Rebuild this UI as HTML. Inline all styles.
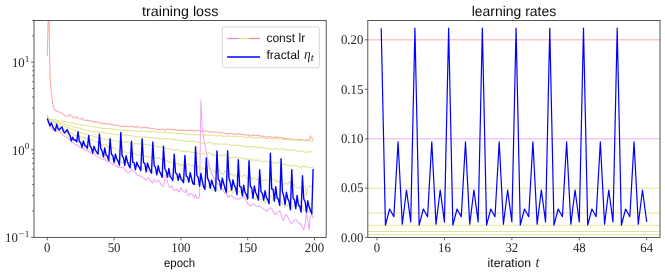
<!DOCTYPE html>
<html><head><meta charset="utf-8"><title>fractal learning rates</title>
<style>
html,body{margin:0;padding:0;background:#fff;}
body{width:665px;height:274px;overflow:hidden;font-family:"Liberation Sans",sans-serif;}
svg{display:block;}
text{text-rendering:geometricPrecision;}
</style></head><body>
<svg width="665" height="274" viewBox="0 0 665 274" role="img" aria-label="training loss and learning rates charts">
<defs><clipPath id="cl"><rect x="34.00" y="20.50" width="292.20" height="216.90"/></clipPath>
<clipPath id="cr"><rect x="367.80" y="20.50" width="292.20" height="216.90"/></clipPath></defs>
<rect width="100%" height="100%" fill="#fff"/>
<g clip-path="url(#cl)" fill="none" stroke-linejoin="round" stroke-linecap="butt">
<path d="M47.30 56.30 L48.64 -5.00 L49.97 74.00 L51.31 93.00 L52.64 102.50 L53.98 108.80 L55.31 110.20 L56.65 111.03 L57.99 111.75 L59.32 112.07 L60.66 112.59 L61.99 113.59 L63.33 114.02 L64.67 115.73 L66.00 116.07 L67.34 116.36 L68.67 115.91 L70.01 114.34 L71.34 115.61 L72.68 116.87 L74.02 118.25 L75.35 117.69 L76.69 116.36 L78.02 118.12 L79.36 118.63 L80.69 119.01 L82.03 117.78 L83.37 119.96 L84.70 120.08 L86.04 120.53 L87.37 120.27 L88.71 120.36 L90.05 120.72 L91.38 121.11 L92.72 121.64 L94.05 121.86 L95.39 121.87 L96.72 121.89 L98.06 122.22 L99.40 123.08 L100.73 122.85 L102.07 123.31 L103.40 123.69 L104.74 123.35 L106.08 123.86 L107.41 124.56 L108.75 123.80 L110.08 124.26 L111.42 124.59 L112.75 124.59 L114.09 125.15 L115.43 125.26 L116.76 124.95 L118.10 125.75 L119.43 126.06 L120.77 126.30 L122.10 126.62 L123.44 126.44 L124.78 126.39 L126.11 125.98 L127.45 126.57 L128.78 126.42 L130.12 126.51 L131.46 126.35 L132.79 126.47 L134.13 126.73 L135.46 127.49 L136.80 126.70 L138.13 126.73 L139.47 127.38 L140.81 128.05 L142.14 128.04 L143.48 127.30 L144.81 126.95 L146.15 127.87 L147.49 127.86 L148.82 127.81 L150.16 128.57 L151.49 128.92 L152.83 128.79 L154.16 128.85 L155.50 129.01 L156.84 129.52 L158.17 129.43 L159.51 129.45 L160.84 129.54 L162.18 128.95 L163.51 129.79 L164.85 129.95 L166.19 129.89 L167.52 129.07 L168.86 129.31 L170.19 129.89 L171.53 129.23 L172.87 129.60 L174.20 130.14 L175.54 129.56 L176.87 130.38 L178.21 130.31 L179.54 130.09 L180.88 130.22 L182.22 130.39 L183.55 130.30 L184.89 130.65 L186.22 130.18 L187.56 130.16 L188.89 130.67 L190.23 130.51 L191.57 130.20 L192.90 130.74 L194.24 131.11 L195.57 130.62 L196.91 130.24 L198.25 130.61 L199.58 130.78 L200.92 130.85 L202.25 131.50 L203.59 130.96 L204.92 131.61 L206.26 131.04 L207.60 131.10 L208.93 131.65 L210.27 132.04 L211.60 132.14 L212.94 132.06 L214.28 132.04 L215.61 132.10 L216.95 132.33 L218.28 132.21 L219.62 132.39 L220.95 132.70 L222.29 132.74 L223.63 133.13 L224.96 133.31 L226.30 133.98 L227.63 133.75 L228.97 133.56 L230.30 133.60 L231.64 133.78 L232.98 134.19 L234.31 133.96 L235.65 134.18 L236.98 134.78 L238.32 133.57 L239.66 133.73 L240.99 134.33 L242.33 134.64 L243.66 134.76 L245.00 134.65 L246.33 135.06 L247.67 135.14 L249.01 134.98 L250.34 135.99 L251.68 135.68 L253.01 135.37 L254.35 135.51 L255.68 135.59 L257.02 135.75 L258.36 135.00 L259.69 135.60 L261.03 136.35 L262.36 135.94 L263.70 136.26 L265.04 136.77 L266.37 136.97 L267.71 137.32 L269.04 136.46 L270.38 136.72 L271.71 136.89 L273.05 137.34 L274.39 137.71 L275.72 136.66 L277.06 137.67 L278.39 137.22 L279.73 137.88 L281.06 137.44 L282.40 137.94 L283.74 138.51 L285.07 138.33 L286.41 138.47 L287.74 138.79 L289.08 138.76 L290.42 138.76 L291.75 139.38 L293.09 139.49 L294.42 139.16 L295.76 140.15 L297.09 139.25 L298.43 139.74 L299.77 139.59 L301.10 139.76 L302.44 140.08 L303.77 140.10 L305.11 140.33 L306.45 139.77 L307.78 139.69 L309.12 140.45 L310.45 135.85 L311.79 138.05 L313.12 140.19" stroke="#ffa6a6" stroke-width="1.05"/>
<path d="M47.30 114.80 L48.64 120.00 L49.97 126.50 L51.31 127.83 L52.64 129.17 L53.98 130.66 L55.31 131.64 L56.65 130.85 L57.99 131.09 L59.32 131.75 L60.66 133.00 L61.99 133.93 L63.33 135.35 L64.67 136.37 L66.00 137.27 L67.34 137.81 L68.67 138.81 L70.01 140.67 L71.34 141.82 L72.68 142.29 L74.02 142.75 L75.35 144.67 L76.69 144.46 L78.02 145.78 L79.36 147.11 L80.69 147.16 L82.03 148.49 L83.37 148.16 L84.70 150.10 L86.04 150.64 L87.37 150.01 L88.71 151.89 L90.05 151.83 L91.38 153.86 L92.72 153.53 L94.05 154.36 L95.39 155.48 L96.72 155.88 L98.06 156.99 L99.40 157.23 L100.73 158.74 L102.07 159.11 L103.40 159.84 L104.74 158.13 L106.08 161.24 L107.41 161.72 L108.75 160.65 L110.08 162.26 L111.42 163.42 L112.75 164.66 L114.09 163.52 L115.43 165.84 L116.76 165.39 L118.10 167.92 L119.43 166.74 L120.77 167.65 L122.10 167.36 L123.44 166.61 L124.78 169.83 L126.11 171.01 L127.45 172.70 L128.78 172.74 L130.12 171.21 L131.46 169.66 L132.79 171.07 L134.13 171.91 L135.46 172.36 L136.80 174.90 L138.13 175.69 L139.47 175.45 L140.81 176.42 L142.14 176.63 L143.48 177.63 L144.81 179.15 L146.15 180.33 L147.49 178.54 L148.82 177.10 L150.16 181.62 L151.49 181.21 L152.83 182.97 L154.16 179.41 L155.50 180.75 L156.84 182.04 L158.17 180.32 L159.51 181.63 L160.84 184.40 L162.18 186.15 L163.51 185.88 L164.85 178.53 L166.19 174.94 L167.52 182.13 L168.86 186.68 L170.19 187.35 L171.53 185.45 L172.87 188.78 L174.20 190.16 L175.54 190.51 L176.87 189.06 L178.21 190.43 L179.54 192.10 L180.88 187.36 L182.22 190.20 L183.55 191.29 L184.89 192.96 L186.22 189.37 L187.56 194.83 L188.89 195.85 L190.23 193.52 L191.57 193.58 L192.90 195.37 L194.24 197.82 L195.57 194.77 L196.91 198.47 L198.25 198.46 L199.58 196.46 L200.92 99.80 L202.25 128.00 L203.59 138.00 L204.92 144.50 L206.26 150.97 L207.60 159.08 L208.93 165.50 L210.27 169.07 L211.60 172.85 L212.94 176.01 L214.28 178.89 L215.61 180.11 L216.95 182.92 L218.28 184.39 L219.62 185.61 L220.95 187.65 L222.29 189.42 L223.63 191.75 L224.96 193.41 L226.30 193.30 L227.63 196.47 L228.97 197.43 L230.30 195.37 L231.64 195.72 L232.98 196.89 L234.31 197.68 L235.65 198.87 L236.98 199.36 L238.32 198.55 L239.66 199.10 L240.99 198.17 L242.33 197.63 L243.66 195.72 L245.00 198.37 L246.33 200.92 L247.67 202.85 L249.01 205.60 L250.34 205.92 L251.68 205.04 L253.01 204.10 L254.35 204.32 L255.68 205.73 L257.02 206.33 L258.36 206.03 L259.69 206.60 L261.03 206.95 L262.36 207.97 L263.70 208.95 L265.04 209.60 L266.37 211.41 L267.71 210.52 L269.04 208.54 L270.38 207.67 L271.71 208.55 L273.05 211.59 L274.39 214.35 L275.72 214.17 L277.06 212.55 L278.39 211.59 L279.73 210.77 L281.06 214.28 L282.40 219.11 L283.74 220.68 L285.07 214.65 L286.41 214.54 L287.74 216.82 L289.08 219.86 L290.42 222.70 L291.75 223.90 L293.09 220.95 L294.42 220.63 L295.76 219.28 L297.09 221.14 L298.43 222.36 L299.77 223.91 L301.10 223.66 L302.44 227.69 L303.77 229.80 L305.11 224.22 L306.45 212.60 L307.78 221.19 L309.12 229.80 L310.45 216.00 L311.79 214.50 L313.12 218.00" stroke="#eea8f2" stroke-width="1.05"/>
<path d="M47.30 118.35 L48.64 118.61 L49.97 118.97 L51.31 118.97 L52.64 119.26 L53.98 119.40 L55.31 119.85 L56.65 120.28 L57.99 120.29 L59.32 120.78 L60.66 121.04 L61.99 121.15 L63.33 121.13 L64.67 121.72 L66.00 121.89 L67.34 122.05 L68.67 122.40 L70.01 122.69 L71.34 123.10 L72.68 123.07 L74.02 123.51 L75.35 123.87 L76.69 124.16 L78.02 124.19 L79.36 124.28 L80.69 124.72 L82.03 124.90 L83.37 125.12 L84.70 125.53 L86.04 125.59 L87.37 125.47 L88.71 125.84 L90.05 125.91 L91.38 126.46 L92.72 126.72 L94.05 126.82 L95.39 127.09 L96.72 127.44 L98.06 127.58 L99.40 127.93 L100.73 127.95 L102.07 128.23 L103.40 128.50 L104.74 128.71 L106.08 128.53 L107.41 128.80 L108.75 128.55 L110.08 128.68 L111.42 128.67 L112.75 129.22 L114.09 129.13 L115.43 129.37 L116.76 129.51 L118.10 129.66 L119.43 129.70 L120.77 129.92 L122.10 130.32 L123.44 130.25 L124.78 130.37 L126.11 130.55 L127.45 130.48 L128.78 130.34 L130.12 130.47 L131.46 130.84 L132.79 130.57 L134.13 130.71 L135.46 131.08 L136.80 131.23 L138.13 131.20 L139.47 131.38 L140.81 131.38 L142.14 131.20 L143.48 131.12 L144.81 131.30 L146.15 131.68 L147.49 131.60 L148.82 131.56 L150.16 131.62 L151.49 131.55 L152.83 131.82 L154.16 131.77 L155.50 132.07 L156.84 131.73 L158.17 132.14 L159.51 132.15 L160.84 131.96 L162.18 132.42 L163.51 132.45 L164.85 132.13 L166.19 132.30 L167.52 132.62 L168.86 132.63 L170.19 132.91 L171.53 133.05 L172.87 133.14 L174.20 133.16 L175.54 133.42 L176.87 133.43 L178.21 133.46 L179.54 133.04 L180.88 133.53 L182.22 133.85 L183.55 133.71 L184.89 133.69 L186.22 134.22 L187.56 133.74 L188.89 134.07 L190.23 134.64 L191.57 134.23 L192.90 134.47 L194.24 134.85 L195.57 134.63 L196.91 134.74 L198.25 134.90 L199.58 134.64 L200.92 134.76 L202.25 134.93 L203.59 135.16 L204.92 135.10 L206.26 135.10 L207.60 134.97 L208.93 135.11 L210.27 135.47 L211.60 135.48 L212.94 135.32 L214.28 135.31 L215.61 136.10 L216.95 136.09 L218.28 136.02 L219.62 135.34 L220.95 135.83 L222.29 136.01 L223.63 136.36 L224.96 136.25 L226.30 136.13 L227.63 136.25 L228.97 135.79 L230.30 136.33 L231.64 136.40 L232.98 136.24 L234.31 136.68 L235.65 136.99 L236.98 136.42 L238.32 136.43 L239.66 136.70 L240.99 136.82 L242.33 136.77 L243.66 136.67 L245.00 137.40 L246.33 137.46 L247.67 137.02 L249.01 136.87 L250.34 137.59 L251.68 137.73 L253.01 138.02 L254.35 137.94 L255.68 137.57 L257.02 137.76 L258.36 137.31 L259.69 137.54 L261.03 137.84 L262.36 138.14 L263.70 137.99 L265.04 138.14 L266.37 138.39 L267.71 138.51 L269.04 138.67 L270.38 138.68 L271.71 138.60 L273.05 138.90 L274.39 138.88 L275.72 138.70 L277.06 138.74 L278.39 138.96 L279.73 139.07 L281.06 139.22 L282.40 139.29 L283.74 139.41 L285.07 139.43 L286.41 139.20 L287.74 139.60 L289.08 139.96 L290.42 139.98 L291.75 139.88 L293.09 140.06 L294.42 139.82 L295.76 139.54 L297.09 140.01 L298.43 139.97 L299.77 140.44 L301.10 140.19 L302.44 139.74 L303.77 140.06 L305.11 140.92 L306.45 140.75 L307.78 140.49 L309.12 140.61 L310.45 141.05 L311.79 141.26 L313.12 141.30" stroke="#e3e391" stroke-width="1.05"/>
<path d="M47.30 118.42 L48.64 118.85 L49.97 119.20 L51.31 119.71 L52.64 120.35 L53.98 120.76 L55.31 121.20 L56.65 121.30 L57.99 121.76 L59.32 122.34 L60.66 122.65 L61.99 123.26 L63.33 123.66 L64.67 124.11 L66.00 124.33 L67.34 125.15 L68.67 125.45 L70.01 125.55 L71.34 125.90 L72.68 126.73 L74.02 126.73 L75.35 127.20 L76.69 127.63 L78.02 127.84 L79.36 127.92 L80.69 128.44 L82.03 128.88 L83.37 129.41 L84.70 129.74 L86.04 129.91 L87.37 130.33 L88.71 130.60 L90.05 130.80 L91.38 131.00 L92.72 131.16 L94.05 131.55 L95.39 131.45 L96.72 131.62 L98.06 131.94 L99.40 131.86 L100.73 132.18 L102.07 132.07 L103.40 132.45 L104.74 132.99 L106.08 133.31 L107.41 133.40 L108.75 133.52 L110.08 133.40 L111.42 134.24 L112.75 134.34 L114.09 134.62 L115.43 134.36 L116.76 134.53 L118.10 134.29 L119.43 134.93 L120.77 135.27 L122.10 134.77 L123.44 135.12 L124.78 135.49 L126.11 135.08 L127.45 134.99 L128.78 135.23 L130.12 135.50 L131.46 135.48 L132.79 135.92 L134.13 136.22 L135.46 136.52 L136.80 136.73 L138.13 137.11 L139.47 137.24 L140.81 136.70 L142.14 136.82 L143.48 136.80 L144.81 136.87 L146.15 137.27 L147.49 137.52 L148.82 137.83 L150.16 137.43 L151.49 137.47 L152.83 137.92 L154.16 138.11 L155.50 138.22 L156.84 138.40 L158.17 138.34 L159.51 138.82 L160.84 138.95 L162.18 138.93 L163.51 138.81 L164.85 138.96 L166.19 138.29 L167.52 138.63 L168.86 139.11 L170.19 138.86 L171.53 139.37 L172.87 139.62 L174.20 139.30 L175.54 139.63 L176.87 139.82 L178.21 140.23 L179.54 140.52 L180.88 140.51 L182.22 140.34 L183.55 140.61 L184.89 140.83 L186.22 141.28 L187.56 141.38 L188.89 141.18 L190.23 140.98 L191.57 141.33 L192.90 141.40 L194.24 141.38 L195.57 141.78 L196.91 141.86 L198.25 142.15 L199.58 142.46 L200.92 142.30 L202.25 143.27 L203.59 142.73 L204.92 143.10 L206.26 142.93 L207.60 143.28 L208.93 142.19 L210.27 142.45 L211.60 142.96 L212.94 143.32 L214.28 144.15 L215.61 143.75 L216.95 144.03 L218.28 144.01 L219.62 144.14 L220.95 144.09 L222.29 143.90 L223.63 144.16 L224.96 143.73 L226.30 144.52 L227.63 144.04 L228.97 144.44 L230.30 145.39 L231.64 144.89 L232.98 144.89 L234.31 145.42 L235.65 145.24 L236.98 144.93 L238.32 145.33 L239.66 145.68 L240.99 145.94 L242.33 145.52 L243.66 146.48 L245.00 146.87 L246.33 146.41 L247.67 146.44 L249.01 146.25 L250.34 147.03 L251.68 146.51 L253.01 146.98 L254.35 146.75 L255.68 146.66 L257.02 147.31 L258.36 147.89 L259.69 147.61 L261.03 147.30 L262.36 147.92 L263.70 147.85 L265.04 148.07 L266.37 148.76 L267.71 148.91 L269.04 148.33 L270.38 149.44 L271.71 148.91 L273.05 149.15 L274.39 148.68 L275.72 148.86 L277.06 148.24 L278.39 149.70 L279.73 150.11 L281.06 149.16 L282.40 148.77 L283.74 148.66 L285.07 149.99 L286.41 149.78 L287.74 149.97 L289.08 150.00 L290.42 150.19 L291.75 149.87 L293.09 150.37 L294.42 149.93 L295.76 150.50 L297.09 150.97 L298.43 151.29 L299.77 151.14 L301.10 150.85 L302.44 151.34 L303.77 151.28 L305.11 152.34 L306.45 152.40 L307.78 152.07 L309.12 151.86 L310.45 151.75 L311.79 151.67 L313.12 152.01" stroke="#e3e391" stroke-width="1.05"/>
<path d="M47.30 118.20 L48.64 118.88 L49.97 119.55 L51.31 120.21 L52.64 120.86 L53.98 121.51 L55.31 122.15 L56.65 122.78 L57.99 123.40 L59.32 124.01 L60.66 124.64 L61.99 125.30 L63.33 125.79 L64.67 126.46 L66.00 127.00 L67.34 127.71 L68.67 127.75 L70.01 128.35 L71.34 129.12 L72.68 129.51 L74.02 129.99 L75.35 130.87 L76.69 131.19 L78.02 131.89 L79.36 132.42 L80.69 132.77 L82.03 133.20 L83.37 133.45 L84.70 133.46 L86.04 134.06 L87.37 134.64 L88.71 134.83 L90.05 135.25 L91.38 135.85 L92.72 135.86 L94.05 136.50 L95.39 137.28 L96.72 137.10 L98.06 137.44 L99.40 137.69 L100.73 138.46 L102.07 138.58 L103.40 138.99 L104.74 138.84 L106.08 139.18 L107.41 139.47 L108.75 139.20 L110.08 140.27 L111.42 140.64 L112.75 140.09 L114.09 140.84 L115.43 140.96 L116.76 141.33 L118.10 141.57 L119.43 141.16 L120.77 141.56 L122.10 142.38 L123.44 142.06 L124.78 141.88 L126.11 141.79 L127.45 141.90 L128.78 142.58 L130.12 143.41 L131.46 143.37 L132.79 143.39 L134.13 144.22 L135.46 143.60 L136.80 143.42 L138.13 143.91 L139.47 144.18 L140.81 143.78 L142.14 143.68 L143.48 144.30 L144.81 144.61 L146.15 144.21 L147.49 144.61 L148.82 144.72 L150.16 145.28 L151.49 145.36 L152.83 145.53 L154.16 145.60 L155.50 146.35 L156.84 146.89 L158.17 146.50 L159.51 147.03 L160.84 146.70 L162.18 147.11 L163.51 147.73 L164.85 148.47 L166.19 148.20 L167.52 148.62 L168.86 149.18 L170.19 148.77 L171.53 149.45 L172.87 149.53 L174.20 150.17 L175.54 149.84 L176.87 149.45 L178.21 150.36 L179.54 150.90 L180.88 150.81 L182.22 151.55 L183.55 151.36 L184.89 151.22 L186.22 151.78 L187.56 151.08 L188.89 151.34 L190.23 151.84 L191.57 152.53 L192.90 152.36 L194.24 152.63 L195.57 152.33 L196.91 152.79 L198.25 153.73 L199.58 152.94 L200.92 154.30 L202.25 153.29 L203.59 153.35 L204.92 153.51 L206.26 154.08 L207.60 153.16 L208.93 152.43 L210.27 153.69 L211.60 154.32 L212.94 154.52 L214.28 155.78 L215.61 154.99 L216.95 154.84 L218.28 155.27 L219.62 155.23 L220.95 156.11 L222.29 155.00 L223.63 155.32 L224.96 153.91 L226.30 156.06 L227.63 156.33 L228.97 157.32 L230.30 158.49 L231.64 157.73 L232.98 157.40 L234.31 157.22 L235.65 157.02 L236.98 157.15 L238.32 158.04 L239.66 158.08 L240.99 158.22 L242.33 158.22 L243.66 158.99 L245.00 159.11 L246.33 158.87 L247.67 159.39 L249.01 159.18 L250.34 158.59 L251.68 160.13 L253.01 160.17 L254.35 159.40 L255.68 160.54 L257.02 160.59 L258.36 159.50 L259.69 161.29 L261.03 161.21 L262.36 161.67 L263.70 161.51 L265.04 161.34 L266.37 160.48 L267.71 161.98 L269.04 162.00 L270.38 161.92 L271.71 162.45 L273.05 162.58 L274.39 163.15 L275.72 162.77 L277.06 162.99 L278.39 161.74 L279.73 162.61 L281.06 163.80 L282.40 164.81 L283.74 164.10 L285.07 164.14 L286.41 165.48 L287.74 164.72 L289.08 165.33 L290.42 166.34 L291.75 165.64 L293.09 166.37 L294.42 165.34 L295.76 165.76 L297.09 165.81 L298.43 166.08 L299.77 167.03 L301.10 168.41 L302.44 166.74 L303.77 166.32 L305.11 167.08 L306.45 166.29 L307.78 167.29 L309.12 167.80 L310.45 167.44 L311.79 168.03 L313.12 166.75" stroke="#e3e391" stroke-width="1.05"/>
<path d="M47.30 118.20 L48.64 119.03 L49.97 119.88 L51.31 120.73 L52.64 121.59 L53.98 122.45 L55.31 123.33 L56.65 124.21 L57.99 125.10 L59.32 125.99 L60.66 127.07 L61.99 127.97 L63.33 129.22 L64.67 130.02 L66.00 130.41 L67.34 132.31 L68.67 133.30 L70.01 132.56 L71.34 133.37 L72.68 134.18 L74.02 135.02 L75.35 135.53 L76.69 135.66 L78.02 135.68 L79.36 136.44 L80.69 137.38 L82.03 137.09 L83.37 137.28 L84.70 138.04 L86.04 137.72 L87.37 138.63 L88.71 139.13 L90.05 140.01 L91.38 140.05 L92.72 140.26 L94.05 140.87 L95.39 141.58 L96.72 141.83 L98.06 142.59 L99.40 143.58 L100.73 144.50 L102.07 145.45 L103.40 144.75 L104.74 145.02 L106.08 144.27 L107.41 146.84 L108.75 146.55 L110.08 147.16 L111.42 148.02 L112.75 147.47 L114.09 148.69 L115.43 149.09 L116.76 148.35 L118.10 149.69 L119.43 151.00 L120.77 149.68 L122.10 151.20 L123.44 151.55 L124.78 152.06 L126.11 152.42 L127.45 153.34 L128.78 152.77 L130.12 153.53 L131.46 153.05 L132.79 153.88 L134.13 153.20 L135.46 153.64 L136.80 155.34 L138.13 155.13 L139.47 154.75 L140.81 154.00 L142.14 154.17 L143.48 155.16 L144.81 156.27 L146.15 156.42 L147.49 156.72 L148.82 156.53 L150.16 157.80 L151.49 156.97 L152.83 156.72 L154.16 158.06 L155.50 158.02 L156.84 157.91 L158.17 157.82 L159.51 158.30 L160.84 159.49 L162.18 159.92 L163.51 158.89 L164.85 160.30 L166.19 160.96 L167.52 160.52 L168.86 162.38 L170.19 162.21 L171.53 162.27 L172.87 163.56 L174.20 164.68 L175.54 163.24 L176.87 163.98 L178.21 163.04 L179.54 166.04 L180.88 164.37 L182.22 165.62 L183.55 164.27 L184.89 165.43 L186.22 167.45 L187.56 163.27 L188.89 164.17 L190.23 165.65 L191.57 165.71 L192.90 165.28 L194.24 168.41 L195.57 167.43 L196.91 165.35 L198.25 167.62 L199.58 165.71 L200.92 168.50 L202.25 167.72 L203.59 168.48 L204.92 170.25 L206.26 169.75 L207.60 167.99 L208.93 167.20 L210.27 170.54 L211.60 171.38 L212.94 169.97 L214.28 171.70 L215.61 172.04 L216.95 172.53 L218.28 169.27 L219.62 170.72 L220.95 172.92 L222.29 173.67 L223.63 174.30 L224.96 170.42 L226.30 172.60 L227.63 173.97 L228.97 177.34 L230.30 174.11 L231.64 173.99 L232.98 174.64 L234.31 176.19 L235.65 175.14 L236.98 177.09 L238.32 175.30 L239.66 176.27 L240.99 175.66 L242.33 176.55 L243.66 175.82 L245.00 174.43 L246.33 177.86 L247.67 178.10 L249.01 177.08 L250.34 177.95 L251.68 179.52 L253.01 177.36 L254.35 177.98 L255.68 179.28 L257.02 179.85 L258.36 178.91 L259.69 176.06 L261.03 180.19 L262.36 180.40 L263.70 180.13 L265.04 179.71 L266.37 180.53 L267.71 179.89 L269.04 178.87 L270.38 179.08 L271.71 179.51 L273.05 179.77 L274.39 179.14 L275.72 181.91 L277.06 179.93 L278.39 182.55 L279.73 180.94 L281.06 182.75 L282.40 185.22 L283.74 184.36 L285.07 182.69 L286.41 183.56 L287.74 184.21 L289.08 181.48 L290.42 182.56 L291.75 184.41 L293.09 184.16 L294.42 185.17 L295.76 186.80 L297.09 187.60 L298.43 188.28 L299.77 188.12 L301.10 186.69 L302.44 186.79 L303.77 186.51 L305.11 186.46 L306.45 195.78 L307.78 187.25 L309.12 185.92 L310.45 187.14 L311.79 185.92 L313.12 187.26" stroke="#e3e391" stroke-width="1.05"/>
<path d="M47.30 118.20 L48.64 120.33 L49.97 122.33 L51.31 124.19 L52.64 125.86 L53.98 127.30 L55.31 128.50 L56.65 129.47 L57.99 130.29 L59.32 131.01 L60.66 131.83 L61.99 132.27 L63.33 133.24 L64.67 132.95 L66.00 134.70 L67.34 135.68 L68.67 136.43 L70.01 136.98 L71.34 138.28 L72.68 138.77 L74.02 139.80 L75.35 140.33 L76.69 140.18 L78.02 141.73 L79.36 142.90 L80.69 144.10 L82.03 144.18 L83.37 145.13 L84.70 146.30 L86.04 146.94 L87.37 148.25 L88.71 149.61 L90.05 148.92 L91.38 148.54 L92.72 150.45 L94.05 151.97 L95.39 152.61 L96.72 153.23 L98.06 153.02 L99.40 153.32 L100.73 154.85 L102.07 154.68 L103.40 154.43 L104.74 155.25 L106.08 158.19 L107.41 159.23 L108.75 158.20 L110.08 158.12 L111.42 159.06 L112.75 159.01 L114.09 160.73 L115.43 160.65 L116.76 160.18 L118.10 162.00 L119.43 161.55 L120.77 162.24 L122.10 162.57 L123.44 162.71 L124.78 163.51 L126.11 163.26 L127.45 162.53 L128.78 162.23 L130.12 163.11 L131.46 164.07 L132.79 165.24 L134.13 165.97 L135.46 166.88 L136.80 167.08 L138.13 166.63 L139.47 166.78 L140.81 165.86 L142.14 167.42 L143.48 168.77 L144.81 169.53 L146.15 169.45 L147.49 169.61 L148.82 170.89 L150.16 170.75 L151.49 171.59 L152.83 171.98 L154.16 172.01 L155.50 173.28 L156.84 172.20 L158.17 172.25 L159.51 172.07 L160.84 172.24 L162.18 174.81 L163.51 176.14 L164.85 175.14 L166.19 175.53 L167.52 176.48 L168.86 176.66 L170.19 177.33 L171.53 175.25 L172.87 175.35 L174.20 176.72 L175.54 178.45 L176.87 177.89 L178.21 176.90 L179.54 177.32 L180.88 177.36 L182.22 177.39 L183.55 180.20 L184.89 179.11 L186.22 179.67 L187.56 182.48 L188.89 182.63 L190.23 181.96 L191.57 180.89 L192.90 181.92 L194.24 183.92 L195.57 183.74 L196.91 184.68 L198.25 183.94 L199.58 184.47 L200.92 184.14 L202.25 185.10 L203.59 186.84 L204.92 184.49 L206.26 185.64 L207.60 186.72 L208.93 186.39 L210.27 186.84 L211.60 188.57 L212.94 190.88 L214.28 190.15 L215.61 189.67 L216.95 187.25 L218.28 190.99 L219.62 190.06 L220.95 189.72 L222.29 188.30 L223.63 189.31 L224.96 188.42 L226.30 189.79 L227.63 190.94 L228.97 190.91 L230.30 191.40 L231.64 190.21 L232.98 193.10 L234.31 191.49 L235.65 189.56 L236.98 191.42 L238.32 191.56 L239.66 191.56 L240.99 192.81 L242.33 194.48 L243.66 193.30 L245.00 194.70 L246.33 197.77 L247.67 198.08 L249.01 197.28 L250.34 197.68 L251.68 197.70 L253.01 198.04 L254.35 199.51 L255.68 198.97 L257.02 195.45 L258.36 197.94 L259.69 197.63 L261.03 199.99 L262.36 199.01 L263.70 199.95 L265.04 203.54 L266.37 199.92 L267.71 198.63 L269.04 197.84 L270.38 196.13 L271.71 196.45 L273.05 200.24 L274.39 200.09 L275.72 198.16 L277.06 198.20 L278.39 201.73 L279.73 200.82 L281.06 201.28 L282.40 202.72 L283.74 205.06 L285.07 207.01 L286.41 206.36 L287.74 204.83 L289.08 204.55 L290.42 207.40 L291.75 208.00 L293.09 205.51 L294.42 206.22 L295.76 206.48 L297.09 206.49 L298.43 206.01 L299.77 205.04 L301.10 206.53 L302.44 205.39 L303.77 209.93 L305.11 210.38 L306.45 207.51 L307.78 211.25 L309.12 211.84 L310.45 207.34 L311.79 213.66 L313.12 215.32" stroke="#e3e391" stroke-width="1.05"/>
<path d="M47.30 118.50 L48.64 122.50 L49.97 125.90 L51.31 122.70 L52.64 126.50 L53.98 129.00 L55.31 130.70 L56.65 124.30 L57.99 128.50 L59.32 130.00 L60.66 128.20 L61.99 127.00 L63.33 131.00 L64.67 132.80 L66.00 131.50 L67.34 129.60 L68.67 133.50 L70.01 135.40 L71.34 140.92 L72.68 137.20 L74.02 139.97 L75.35 140.03 L76.69 141.84 L78.02 131.70 L79.36 141.34 L80.69 142.65 L82.03 147.22 L83.37 140.89 L84.70 145.13 L86.04 146.24 L87.37 148.41 L88.71 135.50 L90.05 146.07 L91.38 147.72 L92.72 153.11 L94.05 146.12 L95.39 150.01 L96.72 152.10 L98.06 154.04 L99.40 134.00 L100.73 148.37 L102.07 150.96 L103.40 156.95 L104.74 147.94 L106.08 154.96 L107.41 156.12 L108.75 160.56 L110.08 138.75 L111.42 154.54 L112.75 155.03 L114.09 162.42 L115.43 154.06 L116.76 158.85 L118.10 160.98 L119.43 165.16 L120.77 132.50 L122.10 155.86 L123.44 157.60 L124.78 165.29 L126.11 155.71 L127.45 161.86 L128.78 165.36 L130.12 167.96 L131.46 141.25 L132.79 162.39 L134.13 162.65 L135.46 169.75 L136.80 162.22 L138.13 165.63 L139.47 167.59 L140.81 170.73 L142.14 138.75 L143.48 162.56 L144.81 163.29 L146.15 171.80 L147.49 162.98 L148.82 167.36 L150.16 170.44 L151.49 173.15 L152.83 142.00 L154.16 165.30 L155.50 167.49 L156.84 174.92 L158.17 165.59 L159.51 171.33 L160.84 174.05 L162.18 177.39 L163.51 146.20 L164.85 168.74 L166.19 171.46 L167.52 177.16 L168.86 168.38 L170.19 176.58 L171.53 178.12 L172.87 180.55 L174.20 154.20 L175.54 172.89 L176.87 173.84 L178.21 180.28 L179.54 173.59 L180.88 178.73 L182.22 180.45 L183.55 182.74 L184.89 155.40 L186.22 175.98 L187.56 177.12 L188.89 181.96 L190.23 172.71 L191.57 178.30 L192.90 183.73 L194.24 184.43 L195.57 146.80 L196.91 175.47 L198.25 177.63 L199.58 186.07 L200.92 173.40 L202.25 181.04 L203.59 186.55 L204.92 189.36 L206.26 158.00 L207.60 178.38 L208.93 181.07 L210.27 188.28 L211.60 180.20 L212.94 184.17 L214.28 187.74 L215.61 191.20 L216.95 150.90 L218.28 179.39 L219.62 180.67 L220.95 189.03 L222.29 178.19 L223.63 183.26 L224.96 188.28 L226.30 192.24 L227.63 150.70 L228.97 178.58 L230.30 182.32 L231.64 190.08 L232.98 179.81 L234.31 185.32 L235.65 187.84 L236.98 194.60 L238.32 159.80 L239.66 186.44 L240.99 186.91 L242.33 195.91 L243.66 185.15 L245.00 192.26 L246.33 194.47 L247.67 199.10 L249.01 160.75 L250.34 186.20 L251.68 187.76 L253.01 198.36 L254.35 186.04 L255.68 192.45 L257.02 195.31 L258.36 199.98 L259.69 169.80 L261.03 191.70 L262.36 193.41 L263.70 200.23 L265.04 190.58 L266.37 197.53 L267.71 199.63 L269.04 203.72 L270.38 153.25 L271.71 189.04 L273.05 189.25 L274.39 201.17 L275.72 186.65 L277.06 197.78 L278.39 199.31 L279.73 205.36 L281.06 158.75 L282.40 191.55 L283.74 195.89 L285.07 204.59 L286.41 192.30 L287.74 198.59 L289.08 201.28 L290.42 209.70 L291.75 169.80 L293.09 198.07 L294.42 199.97 L295.76 208.61 L297.09 195.37 L298.43 204.87 L299.77 206.52 L301.10 212.10 L302.44 175.80 L303.77 199.03 L305.11 201.48 L306.45 212.19 L307.78 200.77 L309.12 207.04 L310.45 210.50 L311.79 213.80 L313.12 169.00" stroke="#0000ff" stroke-width="1.38"/>
</g>
<g clip-path="url(#cr)" fill="none" stroke-linejoin="round">
<path d="M367.80 39.84 H660.00" stroke="#ffa6a6" stroke-width="0.95"/>
<path d="M367.80 138.77 H660.00" stroke="#eea8f2" stroke-width="0.95"/>
<path d="M367.80 188.23 H660.00" stroke="#e3e391" stroke-width="0.95"/>
<path d="M367.80 212.97 H660.00" stroke="#e3e391" stroke-width="0.95"/>
<path d="M367.80 225.33 H660.00" stroke="#e3e391" stroke-width="0.95"/>
<path d="M367.80 231.52 H660.00" stroke="#e3e391" stroke-width="0.95"/>
<path d="M367.80 234.61 H660.00" stroke="#e3e391" stroke-width="0.95"/>
<path d="M381.21 28.17 L385.43 225.04 L389.64 209.01 L393.86 216.73 L398.07 141.74 L402.28 224.25 L406.50 190.02 L410.71 221.87 L414.93 28.17 L419.14 225.04 L423.35 209.01 L427.57 216.73 L431.78 141.74 L436.00 224.25 L440.21 190.02 L444.42 221.87 L448.64 28.17 L452.85 225.04 L457.07 209.01 L461.28 216.73 L465.49 141.74 L469.71 224.25 L473.92 190.02 L478.14 221.87 L482.35 28.17 L486.56 225.04 L490.78 209.01 L494.99 216.73 L499.21 141.74 L503.42 224.25 L507.63 190.02 L511.85 221.87 L516.06 28.17 L520.28 225.04 L524.49 209.01 L528.70 216.73 L532.92 141.74 L537.13 224.25 L541.35 190.02 L545.56 221.87 L549.77 28.17 L553.99 225.04 L558.20 209.01 L562.42 216.73 L566.63 141.74 L570.84 224.25 L575.06 190.02 L579.27 221.87 L583.49 28.17 L587.70 225.04 L591.91 209.01 L596.13 216.73 L600.34 141.74 L604.56 224.25 L608.77 190.02 L612.98 221.87 L617.20 28.17 L621.41 225.04 L625.63 209.01 L629.84 216.73 L634.05 141.74 L638.27 224.25 L642.48 190.02 L646.70 221.87" stroke="#0000ff" stroke-width="1.2"/>
</g>
<rect x="34.00" y="20.50" width="292.20" height="216.90" fill="none" stroke="#444" stroke-width="0.9"/>
<rect x="367.80" y="20.50" width="292.20" height="216.90" fill="none" stroke="#444" stroke-width="0.9"/>
<path d="M47.30 237.40 v2.9 M114.09 237.40 v2.9 M180.88 237.40 v2.9 M247.67 237.40 v2.9 M314.46 237.40 v2.9 M34.00 237.30 h-2.9 M34.00 149.74 h-2.9 M34.00 62.18 h-2.9 M34.00 210.94 h-1.8 M34.00 195.52 h-1.8 M34.00 184.58 h-1.8 M34.00 176.10 h-1.8 M34.00 169.17 h-1.8 M34.00 163.30 h-1.8 M34.00 158.23 h-1.8 M34.00 153.75 h-1.8 M34.00 123.38 h-1.8 M34.00 107.96 h-1.8 M34.00 97.02 h-1.8 M34.00 88.54 h-1.8 M34.00 81.61 h-1.8 M34.00 75.74 h-1.8 M34.00 70.67 h-1.8 M34.00 66.19 h-1.8 M34.00 35.82 h-1.8 M34.00 20.40 h-1.8 M377.00 237.40 v2.9 M444.42 237.40 v2.9 M511.85 237.40 v2.9 M579.27 237.40 v2.9 M646.70 237.40 v2.9 M367.80 237.40 h-2.9 M367.80 188.23 h-2.9 M367.80 138.77 h-2.9 M367.80 89.31 h-2.9 M367.80 39.84 h-2.9" stroke="#444" stroke-width="0.8" fill="none"/>
<g fill="#262626" style="mix-blend-mode:multiply">
<text transform="translate(47.30 251.90) scale(1.0000 1.0400)" font-size="12.80" text-anchor="middle" font-family="Liberation Serif, serif">0</text>
<text transform="translate(114.09 251.90) scale(1.0000 1.0400)" font-size="12.80" text-anchor="middle" font-family="Liberation Serif, serif">50</text>
<text transform="translate(180.88 251.90) scale(1.0000 1.0400)" font-size="12.80" text-anchor="middle" font-family="Liberation Serif, serif">100</text>
<text transform="translate(247.67 251.90) scale(1.0000 1.0400)" font-size="12.80" text-anchor="middle" font-family="Liberation Serif, serif">150</text>
<text transform="translate(314.46 251.90) scale(1.0000 1.0400)" font-size="12.80" text-anchor="middle" font-family="Liberation Serif, serif">200</text>
<text transform="translate(377.00 251.90) scale(1.0000 1.0400)" font-size="12.80" text-anchor="middle" font-family="Liberation Serif, serif">0</text>
<text transform="translate(444.42 251.90) scale(1.0000 1.0400)" font-size="12.80" text-anchor="middle" font-family="Liberation Serif, serif">16</text>
<text transform="translate(511.85 251.90) scale(1.0000 1.0400)" font-size="12.80" text-anchor="middle" font-family="Liberation Serif, serif">32</text>
<text transform="translate(579.27 251.90) scale(1.0000 1.0400)" font-size="12.80" text-anchor="middle" font-family="Liberation Serif, serif">48</text>
<text transform="translate(646.70 251.90) scale(1.0000 1.0400)" font-size="12.80" text-anchor="middle" font-family="Liberation Serif, serif">64</text>
<text transform="translate(17.90 242.30) scale(1.0000 1.0400)" font-size="12.80" text-anchor="end" font-family="Liberation Serif, serif">10</text>
<text transform="translate(17.90 237.00) scale(1.3200 1.0400)" font-size="9.20" text-anchor="start" font-family="Liberation Serif, serif">−</text>
<text transform="translate(24.75 237.00) scale(1.0000 1.0400)" font-size="9.20" text-anchor="start" font-family="Liberation Serif, serif">1</text>
<text transform="translate(24.70 154.74) scale(1.0000 1.0400)" font-size="12.80" text-anchor="end" font-family="Liberation Serif, serif">10</text>
<text transform="translate(24.75 149.44) scale(1.0000 1.0400)" font-size="9.20" text-anchor="start" font-family="Liberation Serif, serif">0</text>
<text transform="translate(24.70 67.18) scale(1.0000 1.0400)" font-size="12.80" text-anchor="end" font-family="Liberation Serif, serif">10</text>
<text transform="translate(24.75 61.88) scale(1.0000 1.0400)" font-size="9.20" text-anchor="start" font-family="Liberation Serif, serif">1</text>
<text transform="translate(363.30 241.60) scale(1.0000 1.0400)" font-size="12.80" text-anchor="end" font-family="Liberation Serif, serif">0.00</text>
<text transform="translate(363.30 192.43) scale(1.0000 1.0400)" font-size="12.80" text-anchor="end" font-family="Liberation Serif, serif">0.05</text>
<text transform="translate(363.30 142.97) scale(1.0000 1.0400)" font-size="12.80" text-anchor="end" font-family="Liberation Serif, serif">0.10</text>
<text transform="translate(363.30 93.51) scale(1.0000 1.0400)" font-size="12.80" text-anchor="end" font-family="Liberation Serif, serif">0.15</text>
<text transform="translate(363.30 44.04) scale(1.0000 1.0400)" font-size="12.80" text-anchor="end" font-family="Liberation Serif, serif">0.20</text>
<text transform="translate(142.00 15.90) scale(1 1.1200)" font-size="12.60" font-family="Liberation Sans, sans-serif" fill="#0d0d0d" textLength="76.40" lengthAdjust="spacingAndGlyphs">training loss</text>
<text transform="translate(471.70 15.90) scale(1 1.1200)" font-size="12.60" font-family="Liberation Sans, sans-serif" fill="#0d0d0d" textLength="84.40" lengthAdjust="spacingAndGlyphs">learning rates</text>
<text transform="translate(164.00 266.90) scale(1 1.1200)" font-size="11.00" font-family="Liberation Sans, sans-serif" fill="#0d0d0d" textLength="31.20" lengthAdjust="spacingAndGlyphs">epoch</text>
<text transform="translate(487.50 266.90) scale(1 1.1200)" font-size="11.00" font-family="Liberation Sans, sans-serif" fill="#0d0d0d" textLength="43.60" lengthAdjust="spacingAndGlyphs">iteration</text>
<text transform="translate(535.60 266.90) scale(1.0000 1.0500)" font-size="14.20" text-anchor="start" font-family="Liberation Serif, serif" font-style="italic">t</text>
</g>
<rect x="222.3" y="26.9" width="97.1" height="40.8" rx="2.2" fill="#fff" fill-opacity="0.8" stroke="#d2d2d2" stroke-width="0.9"/>
<path d="M227.1 38.5 h11" stroke="#e888ee" stroke-width="1.2"/>
<path d="M238.1 38.5 h11" stroke="#dcdc76" stroke-width="1.2"/>
<path d="M249.1 38.5 h11" stroke="#ff8686" stroke-width="1.2"/>
<path d="M227.1 57.0 h33" stroke="#0000ff" stroke-width="1.35"/>
<g fill="#262626" style="mix-blend-mode:multiply">
<text transform="translate(266.40 42.20) scale(1 1.1200)" font-size="11.00" font-family="Liberation Sans, sans-serif" fill="#0d0d0d" textLength="38.80" lengthAdjust="spacingAndGlyphs">const lr</text>
<text transform="translate(266.40 58.60) scale(1 1.1200)" font-size="11.00" font-family="Liberation Sans, sans-serif" fill="#0d0d0d" textLength="33.30" lengthAdjust="spacingAndGlyphs">fractal</text>
<text transform="translate(304.00 58.60) scale(1.0000 1.1000)" font-size="13.50" text-anchor="start" font-family="Liberation Serif, serif" font-style="italic">η</text>
<text transform="translate(310.80 61.00) scale(1.1000 1.1000)" font-size="9.80" text-anchor="start" font-family="Liberation Serif, serif" font-style="italic">t</text>
</g>
</svg>
</body></html>
